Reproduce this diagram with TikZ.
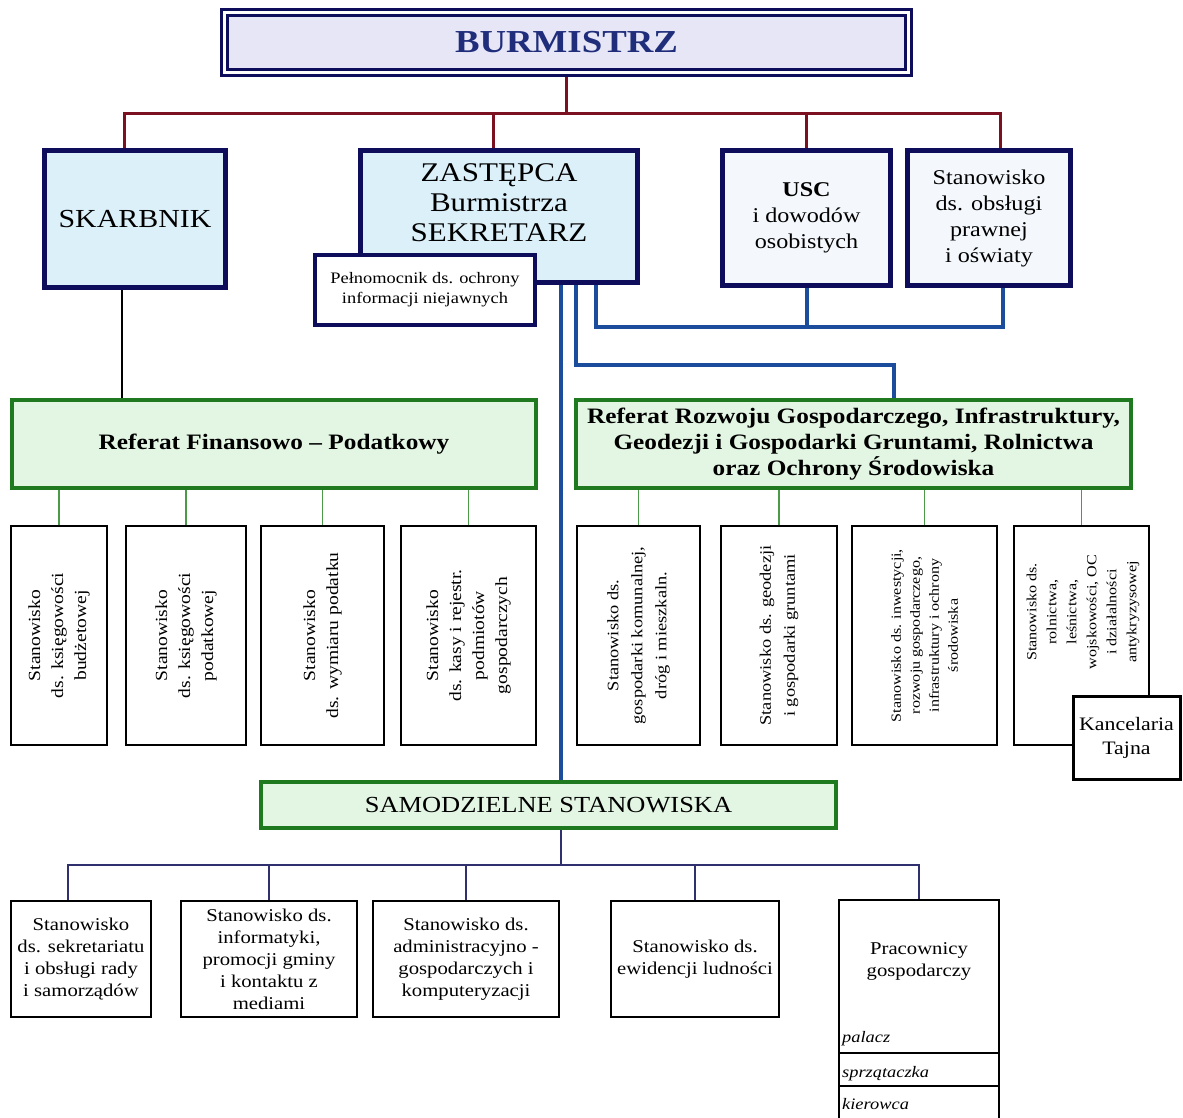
\documentclass[tikz,border=0pt]{standalone}
\usepackage{fontspec}
\setmainfont{Liberation Serif}[FakeStretch=1.15]
\usepackage{tikz}
\usetikzlibrary{backgrounds}

\definecolor{cNavy}{HTML}{0D0D5C}
\definecolor{cBurm}{HTML}{E6E6F7}
\definecolor{cBurmText}{HTML}{1F2D7A}
\definecolor{cCyan}{HTML}{DCF0FA}
\definecolor{cPale}{HTML}{F4F7FB}
\definecolor{cRed}{HTML}{7A1020}
\definecolor{cBlue}{HTML}{1C4C9C}
\definecolor{cGreen}{HTML}{1F7A1F}
\definecolor{cGreenFill}{HTML}{E3F6E3}
\definecolor{cGreenConn}{HTML}{4A9A4A}
\definecolor{cBus}{HTML}{30306E}

\tikzset{
	chief/.style={draw=cNavy, line width=5pt, fill=cCyan, align=center},
	office/.style={draw=cNavy, line width=5pt, fill=cPale, align=center},
	referat/.style={draw=cGreen, line width=4pt, fill=cGreenFill, align=center, font=\bfseries\fontsize{22}{26}\selectfont},
	vbox/.style={draw=black, line width=2.5pt, fill=white, rotate=90, align=center, inner sep=2pt, minimum width=219},
	hbox/.style={draw=black, line width=2.5pt, fill=white, align=center, inner sep=2pt, minimum height=116, font=\fontsize{18}{22}\selectfont},
	item/.style={anchor=base west, inner sep=0pt, font=\itshape\fontsize{16}{18}\selectfont},
	redline/.style={draw=cRed, line width=3pt},
	blueline/.style={draw=cBlue, line width=4pt},
	greenstub/.style={draw=cGreenConn, line width=1.5pt},
	busline/.style={draw=cBus, line width=1.5pt}
}

\begin{document}
\begin{tikzpicture}[x=1pt,y=-1pt]

	\useasboundingbox (0,0) rectangle (1183,1117);

	\node[draw=cNavy, line width=3pt, double=white, double distance=3pt, fill=cBurm, minimum width=684, minimum height=60, text=cBurmText, font=\bfseries\fontsize{32}{36}\selectfont] (burm) at (566.5,42.5) {BURMISTRZ};

	\node[chief, minimum width=181, minimum height=137, font=\fontsize{26}{30}\selectfont] (skar) at (135,219) {SKARBNIK};
	\node[chief, minimum width=277, minimum height=132] (zast) at (499,216.5) {};
	\node[align=center, font=\fontsize{27}{30}\selectfont] (zastt) at (499,203) {ZASTĘPCA\\Burmistrza\\SEKRETARZ};
	\node[draw=cNavy, line width=4pt, fill=white, minimum width=220, minimum height=70, align=center, font=\fontsize{16}{20}\selectfont] (peln) at (425,290) {Pełnomocnik ds. ochrony\\informacji niejawnych};
	\node[office, minimum width=168, minimum height=135, font=\fontsize{21}{26}\selectfont] (usc) at (806.5,218) {\textbf{USC}\\i dowodów\\osobistych};
	\node[office, minimum width=163, minimum height=135, font=\fontsize{21}{26}\selectfont] (praw) at (989,218) {Stanowisko\\ds. obsługi\\prawnej\\i oświaty};

	\node[referat, minimum width=524, minimum height=88] (reffin) at (274,444) {Referat Finansowo – Podatkowy};
	\node[referat, minimum width=555, minimum height=88] (refroz) at (853.5,444) {Referat Rozwoju Gospodarczego, Infrastruktury,\\Geodezji i Gospodarki Gruntami, Rolnictwa\\oraz Ochrony Środowiska};

	\node[vbox, minimum height=96, font=\fontsize{17}{23}\selectfont] (l1) at (59,635.5) {Stanowisko\\ds. księgowości\\budżetowej};
	\node[vbox, minimum height=120, font=\fontsize{17}{23}\selectfont] (l2) at (186,635.5) {Stanowisko\\ds. księgowości\\podatkowej};
	\node[vbox, minimum height=123, font=\fontsize{17}{23}\selectfont] (l3) at (322.5,635.5) {Stanowisko\\ds. wymiaru podatku};
	\node[vbox, minimum height=135, font=\fontsize{17}{23}\selectfont] (l4) at (468.5,635.5) {Stanowisko\\ds. kasy i rejestr.\\podmiotów\\gospodarczych};

	\node[vbox, minimum height=123, font=\fontsize{16}{24}\selectfont] (r1) at (638.5,635.5) {Stanowisko ds.\\gospodarki komunalnej,\\dróg i mieszkaln.};
	\node[vbox, minimum height=116, font=\fontsize{16}{24}\selectfont] (r2) at (779,635.5) {Stanowisko ds. geodezji\\i gospodarki gruntami};
	\node[vbox, minimum height=145, font=\fontsize{14}{19}\selectfont] (r3) at (924.5,635.5) {Stanowisko ds. inwestycji,\\rozwoju gospodarczego,\\infrastruktury i ochrony\\środowiska};
	\node[vbox, minimum height=135] (r4) at (1081.5,635.5) {};
	\node[rotate=90, align=center, font=\fontsize{14}{20}\selectfont] (r4t) at (1083,612) {Stanowisko ds.\\rolnictwa,\\leśnictwa,\\wojskowości, OC\\i działalności\\antykryzysowej};
	\node[draw=black, line width=3pt, fill=white, minimum width=107, minimum height=83, align=center, font=\fontsize{19}{24}\selectfont] (kanc) at (1126.5,737.5) {Kancelaria\\Tajna};

	\node[draw=cGreen, line width=4pt, fill=cGreenFill, minimum width=575, minimum height=46, font=\fontsize{23}{26}\selectfont] (samo) at (548.5,805) {SAMODZIELNE STANOWISKA};

	\node[hbox, minimum width=140] (b1) at (81,959) {Stanowisko\\ds. sekretariatu\\i obsługi rady\\i samorządów};
	\node[hbox, minimum width=176] (b2) at (269,959) {Stanowisko ds.\\informatyki,\\promocji gminy\\i kontaktu z\\mediami};
	\node[hbox, minimum width=186] (b3) at (466,959) {Stanowisko ds.\\administracyjno -\\gospodarczych i\\komputeryzacji};
	\node[hbox, minimum width=168] (b4) at (695,959) {Stanowisko ds.\\ewidencji ludności};
	\node[hbox, minimum width=160, minimum height=222] (b5) at (919,1011) {};
	\node[align=center, font=\fontsize{18}{22}\selectfont] (b5t) at (919,961) {Pracownicy\\gospodarczy};
	\node[item] (palacz) at (842,1042) {palacz};
	\node[item] (sprz) at (842,1077) {sprzątaczka};
	\node[item] (kier) at (842,1109) {kierowca};
	\draw[line width=1.5pt] (838,1053) -- (1000,1053);
	\draw[line width=1.5pt] (838,1086) -- (1000,1086);

	\begin{scope}[on background layer]
		\coordinate (rbus) at (565,113);
		\draw[redline] (burm.south) -- (burm.south |- rbus);
		\draw[redline] ([xshift=-11pt]skar.north) |- (rbus);
		\draw[redline] ([xshift=-6pt]zast.north) |- (rbus);
		\draw[redline] (usc.north) |- (rbus);
		\draw[redline] ([xshift=11pt]praw.north) |- (rbus);

		\draw[blueline] ([xshift=62pt]zast.south) -- ([xshift=62pt]zast.south |- samo.north);
		\draw[blueline] ([xshift=77pt]zast.south) -- ++(0,80) -| ([xshift=40pt]refroz.north);
		\draw[blueline] ([xshift=97pt]zast.south) -- ++(0,42) -| ([xshift=14pt]praw.south);
		\draw[blueline] (usc.south) -- ++(0,39);

		\draw[line width=1.2pt] ([xshift=-13pt]skar.south) -- ([xshift=-13pt]skar.south |- reffin.north);
		\foreach \v in {l1,l2,l3,l4} \draw[greenstub] (\v.east) -- (\v.east |- reffin.south);
		\foreach \v in {r1,r2,r3,r4} \draw[greenstub] (\v.east) -- (\v.east |- refroz.south);

		\coordinate (sbus) at (561,865);
		\draw[busline] ([xshift=12.5pt]samo.south) -- (sbus);
		\draw[busline] ([xshift=-13pt]b1.north) |- (sbus);
		\foreach \b in {b2,b3,b4,b5} \draw[busline] (\b.north) |- (sbus);
	\end{scope}

\end{tikzpicture}
\end{document}
